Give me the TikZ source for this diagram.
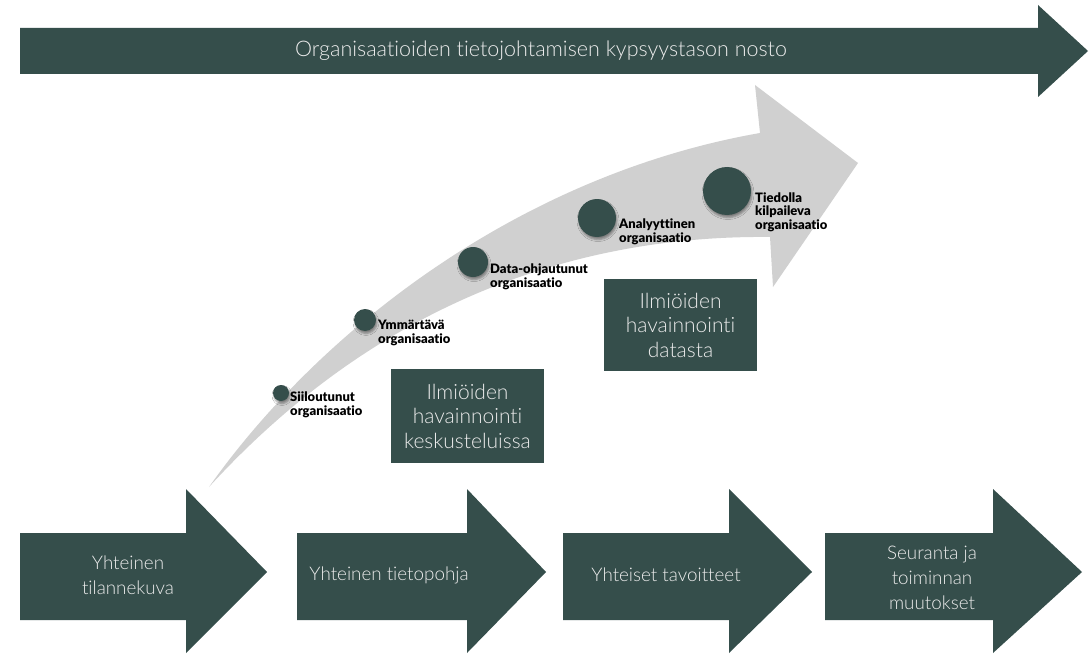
\documentclass[tikz,border=0pt]{standalone}
\usepackage{fontspec}
\setmainfont[Ligatures=NoCommon]{Lato}
\newfontfamily\lightfont[Ligatures=NoCommon]{Lato Light}
\newfontfamily\heavyfont[Ligatures=NoCommon]{Lato Black}
\usetikzlibrary{shadows.blur}
\definecolor{dark}{RGB}{53,78,75}
\definecolor{lgray}{RGB}{208,208,208}
\definecolor{ltext}{RGB}{236,236,236}
\tikzset{
  shape fill/.style={fill=dark},
  bigtext/.style={text=ltext, inner sep=0pt, align=center, font=\lightfont\fontsize{18.8}{25}\selectfont},
  boxtext/.style={fill=dark, text=ltext, inner sep=0pt, align=center, font=\lightfont\fontsize{21}{24.5}\selectfont},
  dot/.style={circle, fill=dark, inner sep=0pt, blur shadow={shadow xshift=1pt, shadow yshift=-2.5pt, shadow blur radius=2pt, shadow opacity=40}},
  lab/.style={inner sep=0pt, align=left, anchor=base west, font=\heavyfont\fontsize{13}{13.5}\selectfont}
}
\begin{document}
\begin{tikzpicture}[x=1pt,y=-1pt]
\useasboundingbox (0,0) rectangle (1091,655);
\fill[white] (0,0) rectangle (1091,655);
% top arrow
\fill[shape fill] (20,28) -- (1038,28) -- (1038,5) -- (1088,51) -- (1038,97) -- (1038,74) -- (20,74) -- cycle;
\node[bigtext, font=\lightfont\fontsize{21.5}{24}\selectfont] (title) at (541,51) {Organisaatioiden tietojohtamisen kypsyystason nosto};
% curved grey arrow
\fill[lgray] (209,487) .. controls (320,330) and (520,175) .. (760,133) -- (755,85) -- (858,163) -- (773,287) -- (770,237) .. controls (580,235) and (380,300) .. (209,487) -- cycle;
% circles
\node[dot, minimum size=16] (c1) at (281,393) {};
\node[dot, minimum size=22] (c2) at (365,320) {};
\node[dot, minimum size=30] (c3) at (473,262) {};
\node[dot, minimum size=38] (c4) at (597,218) {};
\node[dot, minimum size=48] (c5) at (727,191) {};
% labels
\node[lab] (l1) at (290,415) {Siiloutunut\\organisaatio};
\node[lab] (l2) at (378,343) {Ymmärtävä\\organisaatio};
\node[lab] (l3) at (490,287) {Data-ohjautunut\\organisaatio};
\node[lab] (l4) at (619,242) {Analyyttinen\\organisaatio};
\node[lab] (l5) at (755,229) {Tiedolla\\kilpaileva\\organisaatio};
% boxes
\node[boxtext, minimum width=153, minimum height=94] (b1) at (467.5,416) {Ilmiöiden\\havainnointi\\keskusteluissa};
\node[boxtext, minimum width=153, minimum height=92] (b2) at (680.5,325) {Ilmiöiden\\havainnointi\\datasta};
% bottom arrows
\fill[shape fill] (20,533) -- (186,533) -- (186,489) -- (267,572) -- (186,653) -- (186,620) -- (20,620) -- cycle;
\fill[shape fill] (297,533) -- (467,533) -- (467,489) -- (546,572) -- (467,653) -- (467,620) -- (297,620) -- cycle;
\fill[shape fill] (563,533) -- (729,533) -- (729,489) -- (812,572) -- (729,653) -- (729,620) -- (563,620) -- cycle;
\fill[shape fill] (825,533) -- (993,533) -- (993,489) -- (1082,572) -- (993,653) -- (993,620) -- (825,620) -- cycle;
\node[bigtext] (t1) at (128,575) {Yhteinen\\tilannekuva};
\node[bigtext] (t2) at (389,575) {Yhteinen tietopohja};
\node[bigtext] (t3) at (666,575) {Yhteiset tavoitteet};
\node[bigtext] (t4) at (932,578) {Seuranta ja\\toiminnan\\muutokset};
\end{tikzpicture}
\end{document}
